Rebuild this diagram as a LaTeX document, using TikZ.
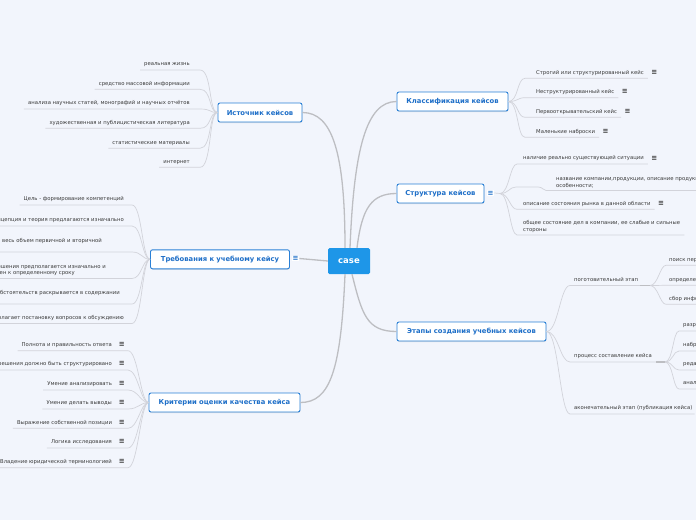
\documentclass[tikz,border=0pt]{standalone}
\usepackage{fontspec}
\setmainfont{DejaVu Sans}
\usetikzlibrary{shadows}
\definecolor{bg}{HTML}{F2F5FC}
\definecolor{leaftext}{HTML}{3A3A3A}
\definecolor{conc}{HTML}{D2D3DA}
\definecolor{mainc}{HTML}{BDBEC2}
\definecolor{bblue}{HTML}{2A80D6}
\definecolor{btext}{HTML}{1E6FC8}
\definecolor{casefill}{HTML}{1E96E8}
\newcommand\leaffont{\fontsize{5.3}{6.5}\selectfont}
\newcommand\branchfont{\fontsize{6.8}{8}\selectfont\bfseries}
\newcommand\menuglyph{{\fontsize{7}{7}\selectfont\bfseries ≡}}
\tikzset{
  leaf/.style={font=\leaffont, text=leaftext, inner xsep=0pt, inner ysep=2.5pt, text depth=1.6pt},
  leafL/.style={leaf, anchor=south east},
  leafR/.style={leaf, anchor=south west},
  multi/.style={text depth=, align=#1},
  con/.style={draw=conc, line width=0.7pt},
  bar/.style={draw=mainc, line width=1.4pt},
  mainline/.style={draw=mainc, line width=1.3pt},
  branch/.style={draw=bblue, line width=0.9pt, fill=white, rounded corners=2pt, text=btext,
    font=\branchfont, minimum height=19pt, inner sep=0pt,
    drop shadow={opacity=0.18, shadow xshift=0.4pt, shadow yshift=-1pt}},
  icon/.style={text=leaftext, inner sep=0.3pt, font=\leaffont},
  bicon/.style={text=btext, fill=white, inner sep=0.8pt, font=\leaffont},
}
\begin{document}
\begin{tikzpicture}[x=1pt,y=-1pt]
\useasboundingbox (0,0) rectangle (696,520);
\fill[bg] (0,0) rectangle (696,520);
\clip (0,0) rectangle (696,520);

% center and branches
\node[fill=casefill, rounded corners=1.5pt, text=white, font=\fontsize{8.5}{10}\selectfont\bfseries,
  minimum width=42pt, minimum height=26pt, inner sep=0pt] (case) at (349,261) {case};
\node[branch, minimum width=84pt] (src) at (260,112.5) {Источник кейсов};
\node[branch, minimum width=139pt] (req) at (220,259.3) {Требования к учебному кейсу};
\node[bicon] (reqi) at (295.5,258.5) {\menuglyph};
\node[branch, minimum width=151pt] (crit) at (224.5,402.5) {Критерии оценки качества кейса};
\node[branch, minimum width=111pt] (cls) at (452.5,101.5) {Классификация кейсов};
\node[branch, minimum width=87pt] (str) at (440.5,193.5) {Структура кейсов};
\node[bicon] (stri) at (490.5,193) {\menuglyph};
\node[branch, minimum width=149pt] (stg) at (471.5,331.5) {Этапы создания учебных кейсов};

% main connectors
\draw[mainline] ([xshift=-4pt]case.north) .. controls +(0,-95) and +(30,0) .. (src.east);
\draw[mainline] ([xshift=1pt]case.north) .. controls +(4,-100) and +(-30,0) .. (cls.west);
\draw[mainline] ([xshift=8pt]case.north) .. controls +(5,-40) and +(-25,0) .. (str.west);
\draw[mainline] (reqi.east) -- (case.west);
\draw[mainline] ([xshift=-4pt]case.south) .. controls +(-4,95) and +(30,0) .. (crit.east);
\draw[mainline] ([xshift=3pt]case.south) .. controls +(10,40) and +(-30,0) .. (stg.west);

% ---- Источник кейсов
\node[leafL] (s1) at (190,70) {реальная жизнь};
\node[leafL] (s2) at (190,89.3) {средство массовой информации};
\node[leafL] (s3) at (190,109) {анализа научных статей, монографий и научных отчётов};
\node[leafL] (s4) at (190,128.3) {художественная и публицистическая литература};
\node[leafL] (s5) at (190,148.3) {статистические материалы};
\node[leafL] (s6) at (190,167.3) {интернет};
\foreach \n in {s1,s2,s3,s4,s5,s6}
  \draw[con] ([xshift=-4pt]\n.south west) -- ([xshift=10pt]\n.south east)
    .. controls +(12,0) and +(-9,0) .. (src.west);

% ---- Требования
\node[leafL] (r1) at (124,205) {Цель - формирование компетенций};
\node[leafL] (r2) at (124,226) {Концепция и теория предлагаются изначально};
\node[leafL, multi=right] (r3) at (124,252) {Представлен весь объем первичной и вторичной\kern22pt\\\mbox{}};
\node[leafL, multi=right] (r4) at (124,278.5) {Описание решения предполагается изначально и\kern18pt\\ограничен к определенному сроку\kern49pt};
\node[leafL, multi=right] (r5) at (124,304) {Совокупность обстоятельств раскрывается в содержании\kern4pt\\\mbox{}};
\node[leafL] (r6) at (124,323.5) {Предполагает постановку вопросов к обсуждению};
\foreach \n in {r1,r2,r3,r4,r5,r6}
  \draw[con] ([xshift=-4pt]\n.south west) -- ([xshift=8pt]\n.south east)
    .. controls +(10,0) and +(-8,0) .. (req.west);

% ---- Критерии
\node[leafL] (c1) at (125,350.7) {Полнота и правильность ответа\kern7pt\menuglyph};
\node[leafL] (c2) at (125,370) {Описание решения должно быть структурировано\kern7pt\menuglyph};
\node[leafL] (c3) at (125,390) {Умение анализировать\kern7pt\menuglyph};
\node[leafL] (c4) at (125,409) {Умение делать выводы\kern7pt\menuglyph};
\node[leafL] (c5) at (125,428.3) {Выражение собственной позиции\kern7pt\menuglyph};
\node[leafL] (c6) at (125,448) {Логика исследования\kern7pt\menuglyph};
\node[leafL] (c7) at (125,467.7) {Владение юридической терминологией\kern7pt\menuglyph};
\foreach \n in {c1,c2,c3,c4,c5,c6,c7}
  \draw[con] ([xshift=-4pt]\n.south west) -- ([xshift=3pt]\n.south east)
    .. controls +(10,0) and +(-8,0) .. (crit.west);

% ---- Классификация
\node[leafR] (k1) at (536,78.3) {Строгий или структурированный кейс};
\node[leafR] (k2) at (536,97.7) {Неструктурированный кейс};
\node[leafR] (k3) at (536,117.3) {Первооткрывательский кейс};
\node[leafR] (k4) at (536,137.3) {Маленькие наброски};
\foreach \n in {k1,k2,k3,k4}{
  \draw[con] (cls.east) .. controls +(10,0) and +(-8,0) .. ([xshift=-11pt]\n.south west) -- ([xshift=4pt]\n.south east);
  \node[icon, anchor=west] (\n i) at ([xshift=7pt,yshift=0.5pt]\n.east) {\menuglyph};
}

% ---- Структура
\coordinate (sj) at (500,193.5);
\draw[con] (stri.east) -- (sj);
\node[leafR] (t1) at (523,164) {наличие реально существующей ситуации};
\node[icon, anchor=west] (t1i) at ([xshift=7pt,yshift=0.5pt]t1.east) {\menuglyph};
\node[leafR, multi=left] (t2) at (556,190.5) {название компании,продукции, описание продукции\\особенности;};
\node[leafR] (t3) at (523,209.3) {описание состояния рынка в данной области};
\node[icon, anchor=west] (t3i) at ([xshift=7pt,yshift=0.5pt]t3.east) {\menuglyph};
\node[leafR, multi=left] (t4) at (523,235) {общее состояние дел в компании, ее слабые и сильные\\стороны};
\draw[con] (sj) .. controls +(9,0) and +(-7,0) .. ([xshift=-6pt]t1.south west) -- ([xshift=4pt]t1.south east);
\draw[con] (sj) .. controls +(9,0) and +(-7,0) .. (516,187) -- (538,187)
   .. controls (543,187) and (543,190.5) .. ([xshift=-10pt]t2.south west) -- (700,190.5);
\draw[con] (sj) .. controls +(9,0) and +(-7,0) .. ([xshift=-6pt]t3.south west) -- ([xshift=4pt]t3.south east);
\draw[con] (sj) .. controls +(9,0) and +(-7,0) .. ([xshift=-6pt]t4.south west) -- ([xshift=4pt]t4.south east);

% ---- Этапы
\node[leafR] (e1) at (574,285.5) {поготовительный этап};
\node[leafR] (e2) at (574,362) {процесс составление кейса};
\node[leafR] (e3) at (574,414) {аконечательный этап (публикация кейса)};
\coordinate (e1j) at (650,285.5);
\coordinate (e2j) at (665,362);
\draw[con] (stg.east) .. controls +(12,0) and +(-10,0) .. ([xshift=-4pt]e1.south west) -- (e1j);
\draw[con] (stg.east) .. controls +(12,0) and +(-10,0) .. ([xshift=-4pt]e2.south west) -- (e2j);
\draw[con] (stg.east) .. controls +(12,0) and +(-10,0) .. ([xshift=-4pt]e3.south west) -- ([xshift=2pt]e3.south east);
\draw[bar] (640,285.5) -- (e1j);
\draw[bar] (656,362) -- (e2j);

\node[leafR] (f1) at (669,265.3) {поиск первичной информации};
\node[leafR] (f2) at (669,285.3) {определение темы};
\node[leafR] (f3) at (669,304.3) {сбор информации};
\foreach \n in {f1,f2,f3}
  \draw[con] (e1j) .. controls +(8,0) and +(-6,0) .. ([xshift=-3pt]\n.south west) -- (700,0 |- \n.south);

\node[leafR] (g1) at (683,331) {разработка кейса};
\node[leafR] (g2) at (683,351) {набросок};
\node[leafR] (g3) at (683,370) {редактирование};
\node[leafR] (g4) at (683,389) {анализ};
\foreach \n in {g1,g2,g3,g4}
  \draw[con] (e2j) .. controls +(8,0) and +(-6,0) .. ([xshift=-4pt]\n.south west) -- (700,0 |- \n.south);
\end{tikzpicture}
\end{document}
